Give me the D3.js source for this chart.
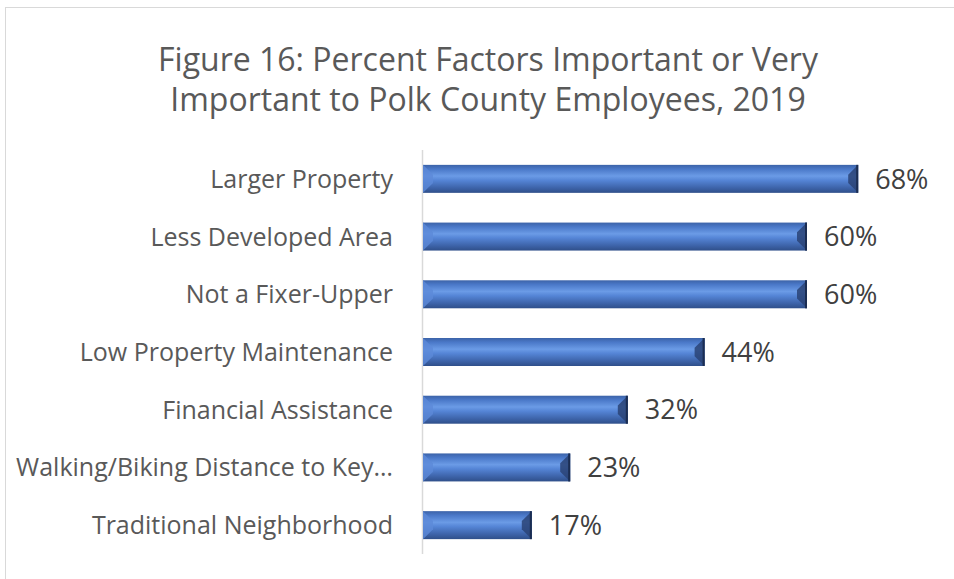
<!DOCTYPE html>
<html>
<head>
<meta charset="utf-8">
<script src="https://cdn.jsdelivr.net/npm/d3@7"></script>
<style>
  body { margin: 0; background: #fff; }
  text { font-family: "Open Sans", sans-serif; fill: #595959; }
</style>
</head>
<body>
<div id="chart"></div>
<script>
'use strict';

var categories = ['Larger Property', 'Less Developed Area', 'Not a Fixer-Upper', 'Low Property Maintenance',
  'Financial Assistance', 'Walking/Biking Distance to Key\u2026', 'Traditional Neighborhood'];
var values = [68, 60, 60, 44, 32, 23, 17];
var titleLines = ['Figure 16: Percent Factors Important or Very', 'Important to Polk County Employees, 2019'];

var width = 954;
var height = 579;
var margin = { top: 150, right: 19, bottom: 25, left: 423 };

var svg = d3.select('#chart').append('svg')
  .attr('width', width)
  .attr('height', height);

// chart area border (clipped by the window on right / bottom)
svg.append('rect')
  .attr('x', 5.5).attr('y', 7.5)
  .attr('width', width + 10).attr('height', height + 10)
  .attr('fill', 'none')
  .attr('stroke', '#d9d9d9');

var defs = svg.append('defs');
var grad = defs.append('linearGradient')
  .attr('id', 'barGrad')
  .attr('x1', 0).attr('y1', 0).attr('x2', 0).attr('y2', 1);
[[0, '#3c63a8'], [0.15, '#4a78c8'], [0.4, '#6b9be6'], [0.55, '#5585d6'], [0.8, '#3f66ad'], [1, '#2f4f8a']]
  .forEach(function (s) {
    grad.append('stop').attr('offset', s[0]).attr('stop-color', s[1]);
  });

var title = svg.append('text')
  .attr('text-anchor', 'middle')
  .style('font-size', '32px');
titleLines.forEach(function (line, i) {
  title.append('tspan')
    .attr('x', 488)
    .attr('y', 71 + i * 40)
    .text(line);
});

var x = d3.scaleLinear()
  .domain([0, 80])
  .range([margin.left, margin.left + 512]);

var y = d3.scaleBand()
  .domain(categories)
  .range([margin.top, height - margin.bottom])
  .paddingInner(0.515)
  .paddingOuter(0.2575);

// category axis line
svg.append('line')
  .attr('x1', margin.left - 0.5).attr('x2', margin.left - 0.5)
  .attr('y1', margin.top).attr('y2', height - margin.bottom)
  .attr('stroke', '#d9d9d9')
  .attr('stroke-width', 1.5);

var bars = svg.selectAll('.bar')
  .data(categories)
  .enter().append('g')
  .attr('class', 'bar')
  .attr('transform', function (d) { return 'translate(0,' + y(d) + ')'; });

var bh = y.bandwidth();
var bev = 10;

bars.append('rect')
  .attr('x', x(0))
  .attr('width', function (d, i) { return x(values[i]) - x(0); })
  .attr('height', bh)
  .attr('fill', 'url(#barGrad)');

// left bevel (lighter)
bars.append('path')
  .attr('d', function () {
    var x0 = x(0);
    return 'M' + x0 + ',0L' + (x0 + bev) + ',' + (bh * 0.35) + 'L' + (x0 + bev) + ',' + (bh * 0.65) + 'L' + x0 + ',' + bh + 'Z';
  })
  .attr('fill', '#5d8ad8')
  .attr('opacity', 0.8);

// right bevel (dark)
bars.append('path')
  .attr('d', function (d, i) {
    var x1 = x(values[i]);
    return 'M' + x1 + ',0L' + (x1 - bev) + ',' + (bh * 0.35) + 'L' + (x1 - bev) + ',' + (bh * 0.65) + 'L' + x1 + ',' + bh + 'Z';
  })
  .attr('fill', '#2a4375')
  .attr('opacity', 0.85);

bars.append('rect')
  .attr('x', function (d, i) { return x(values[i]) - 2; })
  .attr('width', 2)
  .attr('height', bh)
  .attr('fill', '#1b2d52');

// category labels
bars.append('text')
  .attr('x', margin.left - 30)
  .attr('y', bh / 2)
  .attr('dy', '0.36em')
  .attr('text-anchor', 'end')
  .style('font-size', '25px')
  .text(function (d) { return d; });

// value labels
bars.append('text')
  .attr('x', function (d, i) { return x(values[i]) + 17; })
  .attr('y', bh / 2)
  .attr('dy', '0.36em')
  .style('font-size', '27px')
  .style('fill', '#404040')
  .text(function (d, i) { return values[i] + '%'; });
</script>
</body>
</html>
